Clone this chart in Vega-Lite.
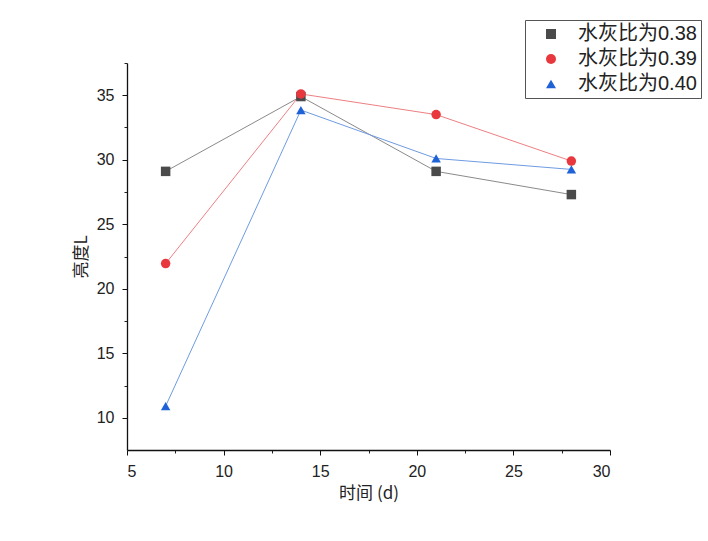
{
  "$schema": "https://vega.github.io/schema/vega-lite/v6.json",
  "description": "亮度L vs 时间, three water-cement ratios",
  "autosize": {"type": "none"},
  "padding": {"left": 127, "top": 63, "right": 98, "bottom": 91},
  "width": 483,
  "height": 387,
  "background": "white",
  "data": {
    "values": [
      {"t": 7, "L": 29.1, "s": "水灰比为0.38"},
      {"t": 14, "L": 34.9, "s": "水灰比为0.38"},
      {"t": 21, "L": 29.1, "s": "水灰比为0.38"},
      {"t": 28, "L": 27.3, "s": "水灰比为0.38"},
      {"t": 7, "L": 21.95, "s": "水灰比为0.39"},
      {"t": 14, "L": 35.1, "s": "水灰比为0.39"},
      {"t": 21, "L": 33.5, "s": "水灰比为0.39"},
      {"t": 28, "L": 29.9, "s": "水灰比为0.39"},
      {"t": 7, "L": 10.9, "s": "水灰比为0.40"},
      {"t": 14, "L": 33.85, "s": "水灰比为0.40"},
      {"t": 21, "L": 30.1, "s": "水灰比为0.40"},
      {"t": 28, "L": 29.25, "s": "水灰比为0.40"}
    ]
  },
  "layer": [
    {
      "mark": {"type": "point", "opacity": 0},
      "encoding": {
        "x": {
          "field": "t", "type": "quantitative",
          "scale": {"domain": [5, 30], "nice": false, "zero": false},
          "axis": {"orient": "bottom", "values": [7.5, 12.5, 17.5, 22.5, 27.5], "labels": false, "domain": false, "grid": false, "tickSize": 3, "tickColor": "#222", "title": null}
        },
        "y": {
          "field": "L", "type": "quantitative",
          "scale": {"domain": [7.5, 37.5], "nice": false, "zero": false},
          "axis": {"orient": "left", "values": [12.5, 17.5, 22.5, 27.5, 32.5, 37.5], "labels": false, "domain": false, "grid": false, "tickSize": 3, "tickColor": "#222", "title": null}
        }
      }
    },
    {
      "mark": {"type": "line", "strokeWidth": 1},
      "encoding": {
        "x": {
          "field": "t", "type": "quantitative",
          "axis": {"orient": "bottom", "values": [5, 10, 15, 20, 25, 30], "title": "时间 (d)", "grid": false}
        },
        "y": {
          "field": "L", "type": "quantitative",
          "axis": {"orient": "left", "values": [10, 15, 20, 25, 30, 35], "title": "亮度L", "grid": false}
        },
        "stroke": {
          "field": "s", "type": "nominal",
          "scale": {"domain": ["水灰比为0.38", "水灰比为0.39", "水灰比为0.40"], "range": ["#8a8a8a", "#ee7f83", "#6f9be2"]},
          "legend": null
        }
      }
    },
    {
      "mark": {"type": "point", "filled": true, "opacity": 1, "size": 90},
      "encoding": {
        "x": {"field": "t", "type": "quantitative", "axis": null},
        "y": {"field": "L", "type": "quantitative", "axis": null},
        "fill": {
          "field": "s", "type": "nominal", "title": null,
          "scale": {"range": ["#4a4a4a", "#e8383d", "#1f62d8"]},
          "legend": {
            "orient": "none",
            "legendX": 398,
            "legendY": -43,
            "padding": 4,
            "strokeColor": "#555",
            "fillColor": "white",
            "symbolSize": 100,
            "symbolOffset": 12,
            "labelOffset": 17,
            "rowPadding": 5,
            "labelFont": "Liberation Sans, Noto Sans CJK SC",
            "labelFontSize": 20,
            "labelColor": "#222",
            "labelLimit": 300
          }
        },
        "shape": {
          "field": "s", "type": "nominal", "title": null,
          "scale": {"range": ["square", "circle", "triangle-up"]},
          "legend": {
            "orient": "none",
            "legendX": 398,
            "legendY": -43,
            "padding": 4,
            "strokeColor": "#555",
            "fillColor": "white",
            "symbolSize": 100,
            "symbolOffset": 12,
            "labelOffset": 17,
            "rowPadding": 5,
            "labelFont": "Liberation Sans, Noto Sans CJK SC",
            "labelFontSize": 20,
            "labelColor": "#222",
            "labelLimit": 300
          }
        }
      }
    }
  ],
  "resolve": {"axis": {"x": "independent", "y": "independent"}},
  "config": {
    "view": {"stroke": null},
    "font": "Liberation Sans, Noto Sans CJK SC",
    "axis": {
      "domainColor": "#111",
      "domainWidth": 1.3,
      "tickColor": "#111",
      "tickSize": 5,
      "tickWidth": 1,
      "labelFont": "Liberation Sans",
      "labelFontSize": 16,
      "labelColor": "#222",
      "labelPadding": 8,
      "titleFont": "Noto Sans CJK SC, Liberation Sans",
      "titleFontSize": 17,
      "titleFontWeight": "normal",
      "titleColor": "#222",
      "titlePadding": 6
    }
  }
}
